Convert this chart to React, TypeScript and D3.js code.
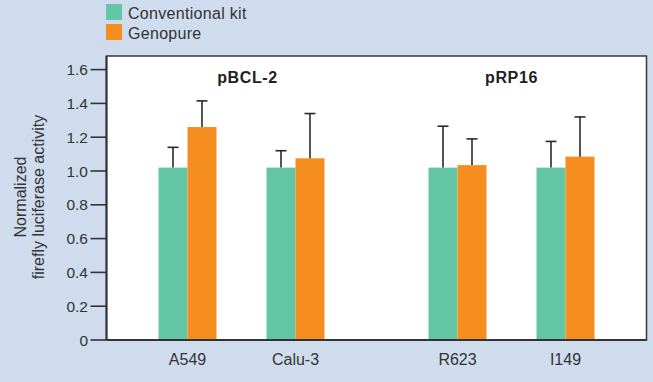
import React from "react";
import * as d3 from "d3";

// plasmid groups and the cell lines tested with each
const groups = ["pBCL-2", "pRP16"];
const cellLines = [
  ["A549", "Calu-3"],
  ["R623", "I149"],
];
const seriesNames = ["Conventional kit", "Genopure"];
const seriesColors = ["#62c5a4", "#f68d1f"];

// normalized activity (order: A549, Calu-3, R623, I149)
const conventional = [1.02, 1.02, 1.02, 1.02];
const conventionalErr = [0.12, 0.1, 0.245, 0.155];
const genopure = [1.26, 1.075, 1.035, 1.085];
const genopureErr = [0.155, 0.265, 0.155, 0.235];

const yTicks = [0, 0.2, 0.4, 0.6, 0.8, 1.0, 1.2, 1.4, 1.6];

const W = 653,
  H = 382;
const margin = { top: 56, right: 6.5, bottom: 42, left: 106.5 };
const font = "'Liberation Sans', Arial, sans-serif";

export default function App() {
  const plotW = W - margin.left - margin.right;
  const plotH = H - margin.top - margin.bottom;

  const y = d3.scaleLinear().domain([0, 1.6]).range([plotH, 69.6 - margin.top]);
  const gx = d3.scaleBand().domain(groups).range([0, plotW]).padding(0);
  const cx = d3
    .scaleBand<number>()
    .domain([0, 1])
    .range([0, gx.bandwidth()])
    .padding(0.5);
  const sx = d3.scaleBand().domain(seriesNames).range([-29, 29]);

  const values = [conventional, genopure];
  const errs = [conventionalErr, genopureErr];

  // flat list of bars
  const bars: { key: string; i: number; x: number; v: number; e: number }[] = [];
  const cells: { name: string; x: number }[] = [];
  let k = 0;
  groups.forEach((g, gi) => {
    cellLines[gi].forEach((name, ci) => {
      const center = gx(g)! + cx(ci)! + cx.bandwidth() / 2;
      cells.push({ name, x: center });
      seriesNames.forEach((s, si) => {
        bars.push({ key: s, i: si, x: center + sx(s)!, v: values[si][k], e: errs[si][k] });
      });
      k++;
    });
  });

  return (
    <svg
      width={W}
      height={H}
      style={{ position: "absolute", left: 0, top: 0, fontFamily: font }}
    >
      <rect width={W} height={H} fill="#cfdcee" />

      {/* legend */}
      {seriesNames.map((s, i) => (
        <g key={s} transform={`translate(106,${4 + i * 20})`}>
          <rect width={16} height={16} fill={seriesColors[i]} />
          <text x={22} y={15} fontSize={16} fill="#333" letterSpacing={0.3}>
            {s}
          </text>
        </g>
      ))}

      {/* y axis title */}
      <g transform="translate(0,197) rotate(-90)" fill="#333" fontSize={16} textAnchor="middle">
        <text x={0} y={26}>Normalized</text>
        <text x={0} y={44}>firefly luciferase activity</text>
      </g>

      <g transform={`translate(${margin.left},${margin.top})`}>
        <rect width={plotW} height={plotH} fill="#fff" stroke="#3a3a3a" strokeWidth={1.5} />

        {bars.map((b, j) => (
          <rect
            key={j}
            x={b.x}
            y={y(b.v)}
            width={sx.bandwidth()}
            height={y(0) - y(b.v)}
            fill={seriesColors[b.i]}
          />
        ))}

        {/* error bars, upper only */}
        {bars.map((b, j) => {
          const mx = b.x + sx.bandwidth() / 2;
          return (
            <g key={"e" + j} stroke="#2a2a2a" strokeWidth={1.6}>
              <line x1={mx} x2={mx} y1={y(b.v)} y2={y(b.v + b.e)} />
              <line x1={mx - 5.5} x2={mx + 5.5} y1={y(b.v + b.e)} y2={y(b.v + b.e)} />
            </g>
          );
        })}

        {/* group labels */}
        {groups.map((g) => (
          <text
            key={g}
            x={gx(g)! + gx.bandwidth() / 2 + (g === "pBCL-2" ? 6 : 0)}
            y={83 - margin.top}
            textAnchor="middle"
            fontSize={16}
            fontWeight="bold"
            letterSpacing={0.6}
            fill="#222"
          >
            {g}
          </text>
        ))}

        {/* left and bottom axis lines */}
        <line x1={0} x2={0} y1={0} y2={plotH} stroke="#333" strokeWidth={2} />
        <line x1={0} x2={plotW} y1={plotH} y2={plotH} stroke="#333" strokeWidth={2} />

        {yTicks.map((t) => (
          <g key={t} transform={`translate(0,${y(t)})`}>
            <line x1={-16} x2={0} stroke="#333" strokeWidth={1.6} />
            <text x={-18.5} dy="0.36em" textAnchor="end" fontSize={15.5} fill="#333">
              {t === 0 ? "0" : d3.format(".1f")(t)}
            </text>
          </g>
        ))}

        {cells.map((c) => (
          <text
            key={c.name}
            x={c.x}
            y={plotH + 25}
            textAnchor="middle"
            fontSize={16}
            fill="#333"
          >
            {c.name}
          </text>
        ))}
      </g>
    </svg>
  );
}
